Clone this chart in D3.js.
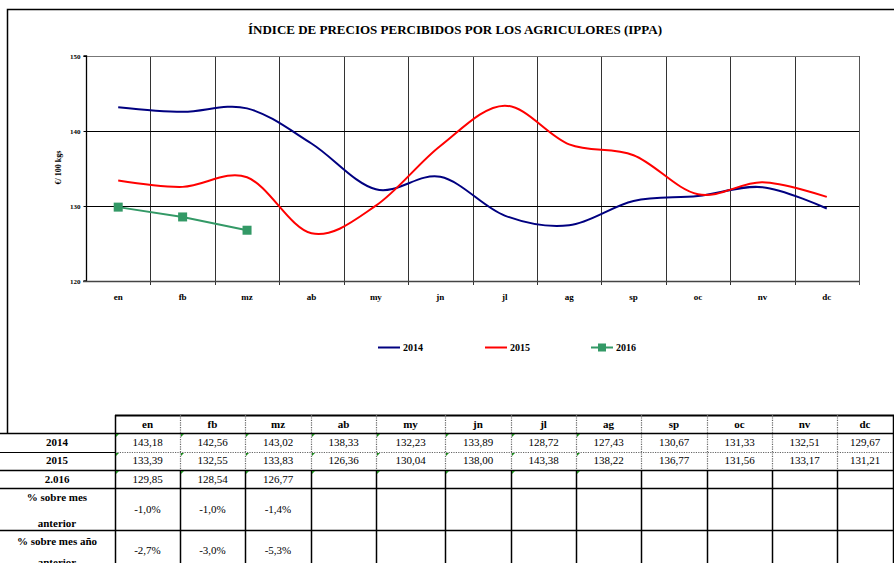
<!DOCTYPE html>
<html>
<head>
<meta charset="utf-8">
<script src="https://cdn.jsdelivr.net/npm/d3@7"></script>
<style>
  html, body { margin: 0; padding: 0; background: #fff; }
  svg { display: block; font-family: "Liberation Serif", "Times New Roman", serif; }
</style>
</head>
<body>
<svg id="chart" width="894" height="563"></svg>
<script>
// Monthly price index (€/100 kg)
const months = ["en", "fb", "mz", "ab", "my", "jn", "jl", "ag", "sp", "oc", "nv", "dc"];
const v2014 = [143.18, 142.56, 143.02, 138.33, 132.23, 133.89, 128.72, 127.43, 130.67, 131.33, 132.51, 129.67];
const v2015 = [133.39, 132.55, 133.83, 126.36, 130.04, 138.00, 143.38, 138.22, 136.77, 131.56, 133.17, 131.21];
const v2016 = [129.85, 128.54, 126.77];
const pctPrevMonth = ["-1,0%", "-1,0%", "-1,4%"];
const pctPrevYear = ["-2,7%", "-3,0%", "-5,3%"];
const yTicks = [120, 130, 140, 150];
const seriesNames = ["2014", "2015", "2016"];
const rowLabels = ["2014", "2015", "2.016"];

const colors = { "2014": "#000080", "2015": "#ff0000", "2016": "#339966" };
const serif = "Liberation Serif";

const svg = d3.select("#chart");

// Outer chart frame (left and top edges)
svg.append("path")
  .attr("d", "M7.5,433 V9.5 H894")
  .attr("fill", "none").attr("stroke", "#000").attr("stroke-width", 1.5);

// Title
svg.append("text")
  .attr("x", 455).attr("y", 34)
  .attr("text-anchor", "middle")
  .attr("font-family", serif)
  .attr("font-size", 13).attr("font-weight", "bold")
  .text("ÍNDICE DE PRECIOS PERCIBIDOS POR LOS AGRICULORES (IPPA)");

// Plot area
const plot = { left: 86, right: 859, top: 56, bottom: 281 };
const x = d3.scaleBand().domain(months).range([plot.left, plot.right]);
const y = d3.scaleLinear().domain([120, 150]).range([plot.bottom, plot.top]);
const cx = m => x(m) + x.bandwidth() / 2;

const g = svg.append("g");

// Vertical gridlines at category boundaries
const bounds = months.slice(1).map(m => x(m));
g.selectAll("line.vgrid").data(bounds).join("line")
  .attr("class", "vgrid")
  .attr("x1", d => Math.round(d) + 0.5).attr("x2", d => Math.round(d) + 0.5)
  .attr("y1", plot.top).attr("y2", plot.bottom + 4)
  .attr("stroke", "#333").attr("stroke-width", 1);

// Right plot edge
g.append("line")
  .attr("x1", plot.right + 0.5).attr("x2", plot.right + 0.5)
  .attr("y1", plot.top).attr("y2", plot.bottom + 4)
  .attr("stroke", "#555");

// Horizontal gridlines
g.selectAll("line.hgrid").data(yTicks.slice(1)).join("line")
  .attr("class", "hgrid")
  .attr("x1", plot.left).attr("x2", plot.right)
  .attr("y1", d => Math.round(y(d)) + 0.5).attr("y2", d => Math.round(y(d)) + 0.5)
  .attr("stroke", d => d === 150 ? "#777" : "#000").attr("stroke-width", 1);

// Y axis
const yAxis = g.append("g")
  .attr("transform", `translate(${plot.left + 0.5},0)`)
  .call(d3.axisLeft(y).tickValues(yTicks).tickSize(3).tickFormat(d3.format("d")));
yAxis.select(".domain").attr("stroke", "#000").attr("stroke-width", 1.3).attr("d", `M-3,${plot.top}H0V${plot.bottom}H-3`);
yAxis.selectAll(".tick line").attr("stroke", "#000");
yAxis.selectAll(".tick text")
  .attr("font-family", serif).attr("font-size", 7).attr("font-weight", "bold").attr("x", -6);

// X axis
const xAxis = g.append("g")
  .attr("transform", `translate(0,${Math.round(plot.bottom) + 0.5})`)
  .call(d3.axisBottom(x).tickSize(0).tickPadding(12));
xAxis.select(".domain").attr("stroke", "#444").attr("stroke-width", 1.5).attr("d", `M${plot.left - 3},0H${plot.right}`);
xAxis.selectAll(".tick text")
  .attr("font-family", serif).attr("font-size", 9).attr("font-weight", "bold");

// Y axis title
svg.append("text")
  .attr("transform", `translate(61,${(plot.top + plot.bottom) / 2 - 1}) rotate(-90)`)
  .attr("text-anchor", "middle")
  .attr("font-family", serif)
  .attr("font-size", 8).attr("font-weight", "bold")
  .text("€/ 100 kgs");

// Series lines
const smooth = d3.line().x((d, i) => cx(months[i])).y(d => y(d)).curve(d3.curveCardinal.tension(0));
const straight = d3.line().x((d, i) => cx(months[i])).y(d => y(d));

g.append("path").datum(v2014)
  .attr("d", smooth).attr("fill", "none")
  .attr("stroke", colors["2014"]).attr("stroke-width", 2);
g.append("path").datum(v2015)
  .attr("d", smooth).attr("fill", "none")
  .attr("stroke", colors["2015"]).attr("stroke-width", 2);
g.append("path").datum(v2016)
  .attr("d", straight).attr("fill", "none")
  .attr("stroke", colors["2016"]).attr("stroke-width", 2);
g.selectAll("rect.m16").data(v2016).join("rect")
  .attr("class", "m16")
  .attr("x", (d, i) => cx(months[i]) - 4.5).attr("y", d => y(d) - 4.5)
  .attr("width", 9).attr("height", 9)
  .attr("fill", colors["2016"]);

// Legend
const legendX = [378, 485, 591];
const leg = svg.append("g");
seriesNames.forEach((name, i) => {
  const lx = legendX[i], ly = 347.5;
  leg.append("line")
    .attr("x1", lx).attr("x2", lx + 22).attr("y1", ly).attr("y2", ly)
    .attr("stroke", colors[name]).attr("stroke-width", 2);
  if (name === "2016") {
    leg.append("rect").attr("x", lx + 7).attr("y", ly - 4).attr("width", 8).attr("height", 8)
      .attr("fill", colors[name]);
  }
  leg.append("text")
    .attr("x", lx + 25).attr("y", ly + 3.5)
    .attr("font-family", serif)
    .attr("font-size", 10).attr("font-weight", "bold")
    .text(name);
});

// Data table
const colEdges = [115, 180, 245, 311, 376, 445, 511, 576, 641, 707, 772, 837, 893];
const rowEdges = [415, 433, 452, 470, 488, 530, 575];
const labelCenter = 57;
const fmt = v => d3.format(".2f")(v).replace(".", ",");
const tbl = svg.append("g").attr("font-size", 11).attr("font-family", serif);

// Header texts
months.forEach((m, i) => {
  tbl.append("text")
    .attr("x", (colEdges[i] + colEdges[i + 1]) / 2).attr("y", 428)
    .attr("text-anchor", "middle").attr("font-weight", "bold").text(m);
});

// Row labels
const labelRows = [
  { lines: [rowLabels[0]], ys: [446] },
  { lines: [rowLabels[1]], ys: [464] },
  { lines: [rowLabels[2]], ys: [483] },
  { lines: ["% sobre mes", "anterior"], ys: [501, 527] },
  { lines: ["% sobre mes año", "anterior"], ys: [545, 566] }
];
labelRows.forEach(r => r.lines.forEach((t, k) => {
  tbl.append("text")
    .attr("x", labelCenter).attr("y", r.ys[k])
    .attr("text-anchor", "middle").attr("font-weight", "bold").text(t);
}));

// Row values
const valueRows = [
  { vals: v2014.map(fmt), y: 446 },
  { vals: v2015.map(fmt), y: 464 },
  { vals: v2016.map(fmt), y: 483 },
  { vals: pctPrevMonth, y: 513 },
  { vals: pctPrevYear, y: 554 }
];
valueRows.forEach(r => r.vals.forEach((t, i) => {
  tbl.append("text")
    .attr("x", (colEdges[i] + colEdges[i + 1]) / 2).attr("y", r.y)
    .attr("text-anchor", "middle").text(t);
}));

// Table rules
const solid = (x1, y1, x2, y2, w) => tbl.append("line")
  .attr("x1", x1).attr("y1", y1).attr("x2", x2).attr("y2", y2)
  .attr("stroke", "#000").attr("stroke-width", w || 1.2);
const dotted = (x1, y1, x2, y2) => tbl.append("line")
  .attr("x1", x1).attr("y1", y1).attr("x2", x2).attr("y2", y2)
  .attr("stroke", "#666").attr("stroke-width", 1.2).attr("stroke-dasharray", "1.2,1.2");

// horizontal rules
solid(colEdges[0], rowEdges[0] + 0.5, 894, rowEdges[0] + 0.5, 2);
solid(0, rowEdges[1] + 0.5, 894, rowEdges[1] + 0.5, 1.5);
solid(0, rowEdges[2] + 0.5, colEdges[0], rowEdges[2] + 0.5);
dotted(colEdges[0], rowEdges[2] + 0.5, 894, rowEdges[2] + 0.5);
[3, 4, 5].forEach(k => solid(0, rowEdges[k] + 0.5, 894, rowEdges[k] + 0.5, 1.5));

// vertical rules
colEdges.forEach((cxEdge, i) => {
  const xe = cxEdge + 0.5;
  if (i === 0 || i === colEdges.length - 1) {
    solid(xe, rowEdges[0], xe, 563, 1.5);
  } else {
    dotted(xe, rowEdges[0], xe, rowEdges[3]);
    solid(xe, rowEdges[3], xe, 563, 1.5);
  }
});

// small green cell markers on the numeric cells
[1, 2, 3].forEach(r => {
  for (let i = 0; i < 8; i++) {
    const x0 = colEdges[i] + 1, y0 = rowEdges[r] + 1;
    tbl.append("path")
      .attr("d", `M${x0},${y0}h3l-3,3z`)
      .attr("fill", "#1a8a1a");
  }
});
</script>
</body>
</html>
